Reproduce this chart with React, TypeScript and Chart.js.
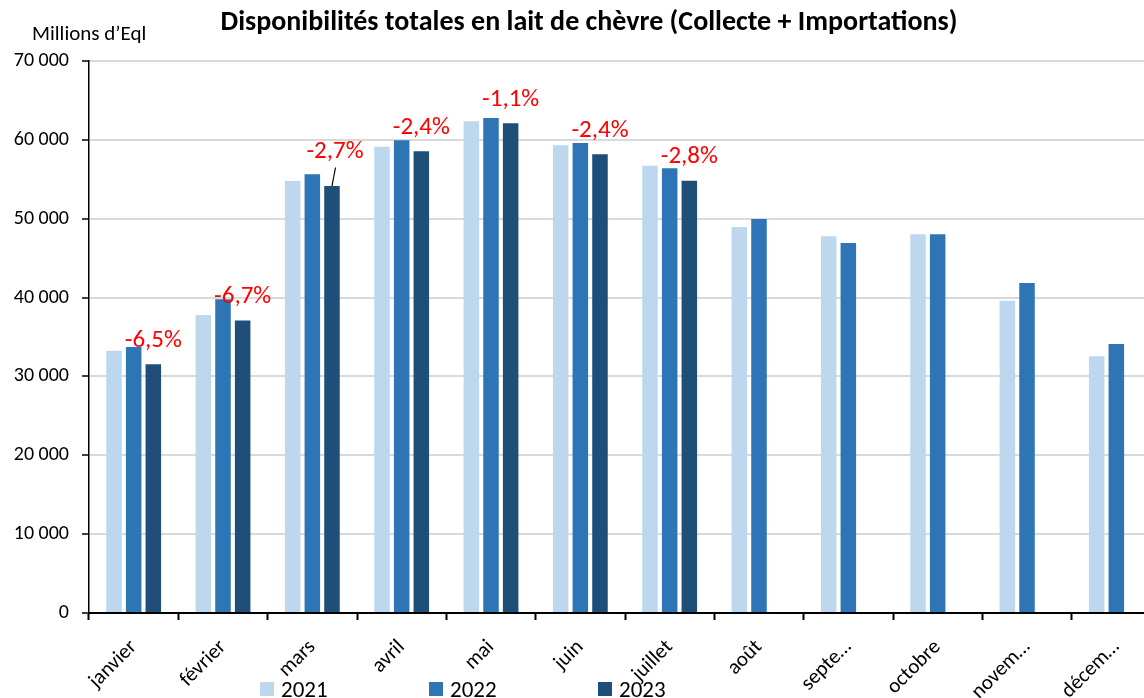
import React, { useEffect, useRef } from "react";
import { Chart, registerables } from "chart.js";

Chart.register(...registerables);

const TITLE = "Disponibilités totales en lait de chèvre (Collecte + Importations)";
const Y_TITLE = "Millions d’Eql";

const categories = [
  "janvier", "février", "mars", "avril", "mai", "juin",
  "juillet", "août", "septe…", "octobre", "novem…", "décem…",
];

const series2021 = [33250, 37790, 54780, 59140, 62350, 59310, 56720, 48950, 47770, 48030, 39600, 32550];
const series2022 = [33730, 39780, 55630, 59950, 62770, 59600, 56390, 49960, 46920, 48030, 41850, 34110];
const series2023 = [31540, 37100, 54150, 58540, 62100, 58170, 54800, null, null, null, null, null];

const seriesNames = ["2021", "2022", "2023"];
const seriesColors = ["#BDD7EE", "#2E75B6", "#1F4E79"];

const pctLabels = ["-6,5%", "-6,7%", "-2,7%", "-2,4%", "-1,1%", "-2,4%", "-2,8%"];

const yTicks = [0, 10000, 20000, 30000, 40000, 50000, 60000, 70000];

const FONT = "Carlito, Calibri, 'Noto Sans', sans-serif";

const formatThousands = (v: number) =>
  String(v).replace(/\B(?=(\d{3})+(?!\d))/g, " ");

const overlayPlugin = {
  id: "overlay",
  afterDraw(chart: any) {
    const ctx = chart.ctx as CanvasRenderingContext2D;
    ctx.save();
    // Title
    ctx.fillStyle = "#000";
    ctx.font = `bold 28px ${FONT}`;
    ctx.textAlign = "center";
    ctx.textBaseline = "alphabetic";
    ctx.fillText(TITLE, 589, 30);
    // Y axis title
    ctx.font = `21px ${FONT}`;
    ctx.textAlign = "left";
    ctx.fillText(Y_TITLE, 32, 40);

    // Percentage labels above 2023 bars
    const meta = chart.getDatasetMeta(2);
    ctx.font = `25px ${FONT}`;
    ctx.textAlign = "center";
    pctLabels.forEach((t, i) => {
      const bar = meta.data[i];
      if (!bar) return;
      const leader = i === 2;
      const x = bar.x + (leader ? 3 : 0);
      const y = bar.y - 17.5 - (leader ? 10 : 0);
      ctx.fillStyle = "#FF0000";
      ctx.fillText(t, x, y);
      if (leader) {
        ctx.strokeStyle = "#000";
        ctx.lineWidth = 1.2;
        ctx.beginPath();
        ctx.moveTo(bar.x + 3.5, y + 9);
        ctx.lineTo(bar.x, bar.y);
        ctx.stroke();
      }
    });

    // Legend
    const legendX = [260, 429, 598];
    ctx.font = `23px ${FONT}`;
    ctx.textAlign = "left";
    seriesNames.forEach((name, i) => {
      ctx.fillStyle = seriesColors[i];
      ctx.fillRect(legendX[i], 682, 14, 14);
      ctx.fillStyle = "#000";
      ctx.fillText(name, legendX[i] + 21, 697);
    });
    ctx.restore();
  },
};

export default function App() {
  const ref = useRef<HTMLCanvasElement | null>(null);

  useEffect(() => {
    if (!ref.current) return;
    const chart = new Chart(ref.current, {
      type: "bar",
      data: {
        labels: categories,
        datasets: [series2021, series2022, series2023].map((d, i) => ({
          label: seriesNames[i],
          data: d as any,
          backgroundColor: seriesColors[i],
          borderWidth: 0,
          categoryPercentage: 0.66,
          barPercentage: 0.79,
        })),
      },
      options: {
        responsive: false,
        animation: false,
        devicePixelRatio: 1,
        layout: { padding: { top: 61, left: 0, right: 0, bottom: 0 } },
        plugins: {
          legend: { display: false },
          title: { display: false },
          tooltip: { enabled: false },
        },
        scales: {
          x: {
            offset: true,
            afterFit(scale: any) {
              scale.height = 85;
            },
            grid: {
              display: true,
              offset: true,
              drawOnChartArea: false,
              drawTicks: true,
              tickLength: 7,
              tickColor: "#000",
              tickWidth: 2,
            },
            border: { display: true, color: "#000", width: 2 },
            ticks: {
              autoSkip: false,
              minRotation: 45,
              maxRotation: 45,
              color: "#000",
              padding: 15,
              font: { family: FONT, size: 21 },
            },
          },
          y: {
            min: 0,
            max: 70000,
            afterFit(scale: any) {
              scale.width = 89;
            },
            afterBuildTicks(scale: any) {
              scale.ticks = yTicks.map((v) => ({ value: v }));
            },
            grid: {
              color: "#D9D9D9",
              lineWidth: 2,
              tickColor: "#000",
              tickLength: 7,
              tickWidth: 1.5,
            },
            border: { display: true, color: "#000", width: 1.5 },
            ticks: {
              color: "#000",
              padding: 13,
              font: { family: FONT, size: 20 },
              callback: (v: any) => formatThousands(Number(v)),
            },
          },
        },
      },
      plugins: [overlayPlugin],
    });
    return () => chart.destroy();
  }, []);

  return (
    <div
      style={{
        position: "absolute",
        left: 0,
        top: 0,
        width: 1144,
        height: 698,
        overflow: "hidden",
        background: "#fff",
      }}
    >
      <canvas ref={ref} width={1161} height={698} style={{ display: "block", width: 1161, height: 698 }} />
    </div>
  );
}
